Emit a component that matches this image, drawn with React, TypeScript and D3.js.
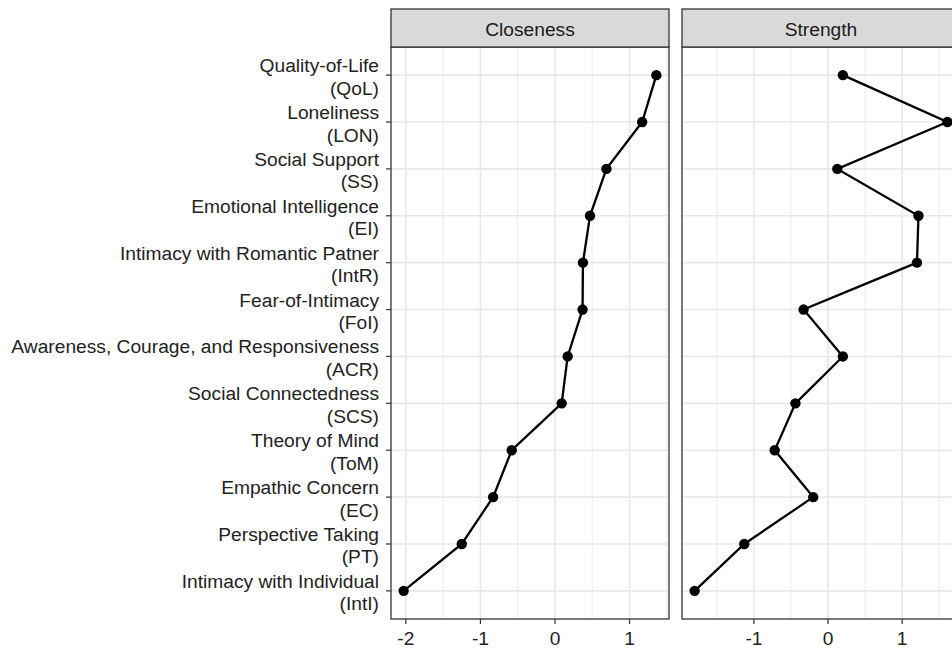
import React, {useEffect, useRef} from 'react';
import * as d3 from 'd3';

// node labels, top to bottom
const measureNames = [
  'Quality-of-Life',
  'Loneliness',
  'Social Support',
  'Emotional Intelligence',
  'Intimacy with Romantic Patner',
  'Fear-of-Intimacy',
  'Awareness, Courage, and Responsiveness',
  'Social Connectedness',
  'Theory of Mind',
  'Empathic Concern',
  'Perspective Taking',
  'Intimacy with Individual',
];
const measureAbbr = ['QoL', 'LON', 'SS', 'EI', 'IntR', 'FoI', 'ACR', 'SCS', 'ToM', 'EC', 'PT', 'IntI'];

// standardized centrality estimates
const closeness = [1.36, 1.17, 0.69, 0.47, 0.375, 0.37, 0.17, 0.09, -0.58, -0.83, -1.25, -2.03];
const strength = [0.2, 1.61, 0.125, 1.22, 1.2, -0.33, 0.2, -0.44, -0.72, -0.2, -1.13, -1.8];

const facets = ['Closeness', 'Strength'];

const W = 952;
const H = 654;
const FONT = '"Liberation Sans", Arial, Helvetica, sans-serif';

const App: React.FC = () => {
  const ref = useRef<SVGSVGElement | null>(null);

  useEffect(() => {
    if (!ref.current) return;
    const svg = d3.select(ref.current);
    svg.selectAll('*').remove();

    const panelTop = 47;
    const panelBottom = 619;
    const stripTop = 9;
    const panelW = 278;
    const firstLeft = 391;
    const gap = 13;

    const y = d3
      .scalePoint<string>()
      .domain(measureAbbr)
      .range([panelTop, panelBottom])
      .padding(0.6);

    // y axis (shared, left of first panel)
    const yAxis = svg.append('g').style('font-family', FONT).style('font-size', '19.2px');
    measureAbbr.forEach((abbr, i) => {
      const yy = y(abbr)!;
      yAxis
        .append('line')
        .attr('x1', firstLeft - 5)
        .attr('x2', firstLeft)
        .attr('y1', yy)
        .attr('y2', yy)
        .attr('stroke', '#333')
        .attr('stroke-width', 1.2);
      const t = yAxis.append('text').attr('text-anchor', 'end').attr('fill', '#222');
      t.append('tspan').attr('x', firstLeft - 12).attr('y', yy - 3).text(measureNames[i]);
      t.append('tspan').attr('x', firstLeft - 12).attr('y', yy + 19.5).text(`(${abbr})`);
    });

    [closeness, strength].forEach((vals, k) => {
      const left = firstLeft + k * (panelW + gap);
      const right = left + panelW;
      const [lo, hi] = d3.extent(vals) as [number, number];
      const pad = (hi - lo) * 0.05;
      const x = d3.scaleLinear().domain([lo - pad, hi + pad]).range([left, right]);
      const [d0, d1] = x.domain();
      const majors = x.ticks(5);
      const minors = d3.range(Math.ceil(d0 * 2) / 2, d1, 0.5).filter((v) => !Number.isInteger(v));

      const clipId = `clip-${k}`;
      svg
        .append('clipPath')
        .attr('id', clipId)
        .append('rect')
        .attr('x', left)
        .attr('y', panelTop)
        .attr('width', panelW)
        .attr('height', panelBottom - panelTop);

      const g = svg.append('g').attr('clip-path', `url(#${clipId})`);
      g.append('rect')
        .attr('x', left)
        .attr('y', panelTop)
        .attr('width', panelW)
        .attr('height', panelBottom - panelTop)
        .attr('fill', '#fff');

      g.selectAll('line.minor')
        .data(minors)
        .join('line')
        .attr('class', 'minor')
        .attr('x1', (d) => x(d))
        .attr('x2', (d) => x(d))
        .attr('y1', panelTop)
        .attr('y2', panelBottom)
        .attr('stroke', '#ebebeb')
        .attr('stroke-width', 1);

      g.selectAll('line.majorx')
        .data(majors)
        .join('line')
        .attr('class', 'majorx')
        .attr('x1', (d) => x(d))
        .attr('x2', (d) => x(d))
        .attr('y1', panelTop)
        .attr('y2', panelBottom)
        .attr('stroke', '#e8e8e8')
        .attr('stroke-width', 1.6);

      g.selectAll('line.majory')
        .data(measureAbbr)
        .join('line')
        .attr('class', 'majory')
        .attr('x1', left)
        .attr('x2', right)
        .attr('y1', (d) => y(d)!)
        .attr('y2', (d) => y(d)!)
        .attr('stroke', '#e8e8e8')
        .attr('stroke-width', 1.6);

      const line = d3
        .line<number>()
        .x((d) => x(d))
        .y((_, i) => y(measureAbbr[i])!);

      g.append('path')
        .attr('d', line(vals))
        .attr('fill', 'none')
        .attr('stroke', '#000')
        .attr('stroke-width', 2.3);

      g.selectAll('circle')
        .data(vals)
        .join('circle')
        .attr('cx', (d) => x(d))
        .attr('cy', (_, i) => y(measureAbbr[i])!)
        .attr('r', 5.2)
        .attr('fill', '#000');

      // panel border
      svg
        .append('rect')
        .attr('x', left)
        .attr('y', panelTop)
        .attr('width', panelW)
        .attr('height', panelBottom - panelTop)
        .attr('fill', 'none')
        .attr('stroke', '#333')
        .attr('stroke-width', 1.3);

      // strip
      svg
        .append('rect')
        .attr('x', left)
        .attr('y', stripTop)
        .attr('width', panelW)
        .attr('height', panelTop - stripTop)
        .attr('fill', '#d9d9d9')
        .attr('stroke', '#333')
        .attr('stroke-width', 1.3);
      svg
        .append('text')
        .attr('x', (left + right) / 2)
        .attr('y', stripTop + 26.5)
        .attr('text-anchor', 'middle')
        .attr('fill', '#1a1a1a')
        .style('font-family', FONT)
        .style('font-size', '19.2px')
        .text(facets[k]);

      // x axis
      const xa = svg.append('g').style('font-family', FONT).style('font-size', '19.2px');
      majors.forEach((v) => {
        xa.append('line')
          .attr('x1', x(v))
          .attr('x2', x(v))
          .attr('y1', panelBottom)
          .attr('y2', panelBottom + 5)
          .attr('stroke', '#333')
          .attr('stroke-width', 1.2);
        xa.append('text')
          .attr('x', x(v))
          .attr('y', panelBottom + 26)
          .attr('text-anchor', 'middle')
          .attr('fill', '#222')
          .text(String(v));
      });
    });
  }, []);

  return (
    <svg
      ref={ref}
      width={W}
      height={H}
      style={{position: 'absolute', left: 0, top: 0, background: '#fff'}}
    ></svg>
  );
};

export default App;
